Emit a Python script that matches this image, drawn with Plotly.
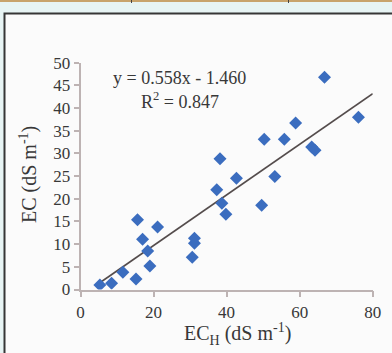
import plotly.graph_objects as go

# Measured vs. estimated electrical conductivity
ec_h = [5.3, 8.5, 11.6, 15.2, 15.6, 17.0, 18.4, 19.0, 21.1, 30.6, 31.2, 31.2,
        37.3, 38.2, 38.7, 39.8, 42.7, 49.6, 50.3, 53.2, 55.8, 58.9, 63.3, 64.2,
        66.8, 76.1]
ec = [1.0, 1.4, 3.8, 2.3, 15.4, 11.1, 8.5, 5.2, 13.8, 7.1, 10.2, 11.3,
      22.0, 28.8, 19.0, 16.6, 24.5, 18.6, 33.1, 24.9, 33.1, 36.7, 31.4, 30.7,
      46.8, 38.0]

slope = 0.558
intercept = -1.460
r_squared = 0.847
fit_x = [5.0, 80.0]

x_ticks = [0, 20, 40, 60, 80]
y_ticks = [0, 5, 10, 15, 20, 25, 30, 35, 40, 45, 50]

W, H = 392, 353
SERIF = "Liberation Serif, Times New Roman, serif"
TXT = "#383838"
AXIS = "#bdb3b3"


def px(x):
    return x / W


def py(y):
    return 1 - y / H


fig = go.Figure()

fig.add_trace(go.Scatter(
    x=fit_x,
    y=[slope * v + intercept for v in fit_x],
    mode="lines",
    line=dict(color="#544c4c", width=1.6),
    hoverinfo="skip",
))

fig.add_trace(go.Scatter(
    x=ec_h, y=ec,
    mode="markers",
    marker=dict(symbol="diamond", size=10, color="#3b6dbf",
                line=dict(width=0)),
))

shapes = [
    # framed panel
    dict(type="rect", xref="paper", yref="paper", layer="below",
         x0=px(4.5), x1=1.05, y0=-0.05, y1=py(13.5),
         fillcolor="#fbfbfb", line=dict(color="#363636", width=2)),
    # table rule along the top
    dict(type="line", xref="paper", yref="paper",
         x0=0, x1=1, y0=py(1), y1=py(1),
         line=dict(color="#c8a36c", width=2)),
    dict(type="line", xref="paper", yref="paper",
         x0=px(131.5), x1=px(131.5), y0=1, y1=py(3),
         line=dict(color="#444", width=1)),
    dict(type="line", xref="paper", yref="paper",
         x0=px(288.5), x1=px(288.5), y0=1, y1=py(3),
         line=dict(color="#444", width=1)),
]

annotations = [
    dict(xref="paper", yref="paper", x=px(179), y=py(78),
         text=f"y = {slope:.3f}x - {abs(intercept):.3f}", showarrow=False,
         font=dict(family=SERIF, size=18, color=TXT),
         xanchor="center", yanchor="middle"),
    dict(xref="paper", yref="paper", x=px(180), y=py(100),
         text=f"R<sup>2</sup> = {r_squared:.3f}", showarrow=False,
         font=dict(family=SERIF, size=18, color=TXT),
         xanchor="center", yanchor="middle"),
    dict(xref="paper", yref="paper", x=px(28), y=py(175),
         text="EC (dS m<sup>-1</sup>)", showarrow=False, textangle=-90,
         font=dict(family=SERIF, size=20, color=TXT),
         xanchor="center", yanchor="middle"),
    dict(xref="paper", yref="paper", x=px(237), y=py(334),
         text="EC<sub>H</sub> (dS m<sup>-1</sup>)", showarrow=False,
         font=dict(family=SERIF, size=20, color=TXT),
         xanchor="center", yanchor="middle"),
]

fig.update_layout(
    width=W, height=H,
    autosize=False,
    margin=dict(l=0, r=0, t=0, b=0, pad=0),
    paper_bgcolor="#e7f4f4",
    plot_bgcolor="rgba(0,0,0,0)",
    showlegend=False,
    shapes=shapes,
    annotations=annotations,
    xaxis=dict(
        domain=[px(80.5), px(372.7)], range=[0, 80],
        automargin=False,
        tickvals=x_ticks, ticktext=[str(v) for v in x_ticks],
        showgrid=False, zeroline=False,
        showline=True, linecolor=AXIS, linewidth=1.5,
        ticks="outside", ticklen=6, tickcolor=AXIS, tickwidth=1.5,
        tickfont=dict(family=SERIF, size=17, color=TXT),
        fixedrange=True,
    ),
    yaxis=dict(
        domain=[py(289.5), py(62.7)], range=[0, 50],
        automargin=False,
        tickvals=y_ticks, ticktext=[str(v) for v in y_ticks],
        showgrid=False, zeroline=False,
        showline=True, linecolor=AXIS, linewidth=1.5,
        ticks="outside", ticklen=5, tickcolor=AXIS, tickwidth=1.5,
        tickfont=dict(family=SERIF, size=17, color=TXT),
        fixedrange=True,
    ),
)

fig.write_html("out.html", config=dict(displayModeBar=False))
